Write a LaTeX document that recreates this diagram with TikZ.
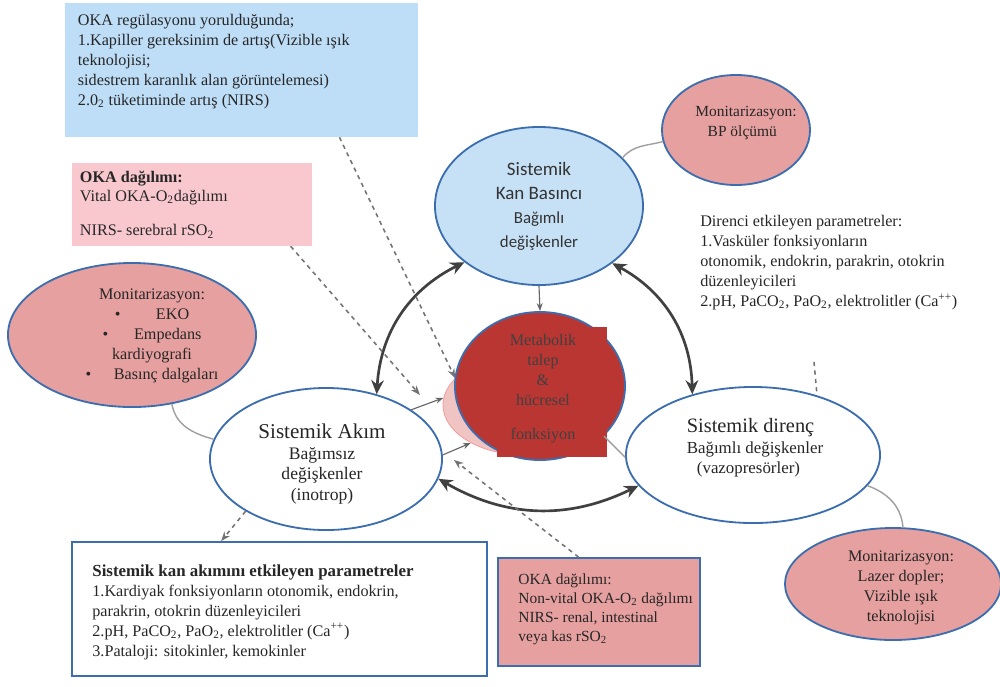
\documentclass[tikz,border=0pt]{standalone}
\usepackage{fontspec}
\setmainfont{Liberation Serif}
\newfontfamily\calib{Carlito}
\usepackage{xcolor}
\usetikzlibrary{arrows.meta,positioning,shapes,calc}

\definecolor{edgeblue}{RGB}{60,110,175}
\definecolor{paleblue}{RGB}{190,221,246}
\definecolor{skyblue}{RGB}{198,225,246}
\definecolor{palepink}{RGB}{248,200,206}
\definecolor{salmon}{RGB}{231,160,160}
\definecolor{bloodred}{RGB}{186,54,50}
\definecolor{halopink}{RGB}{241,196,196}

\begin{document}
\begin{tikzpicture}[x=0.025cm, y=-0.025cm,
  ell/.style={ellipse, draw=edgeblue, line width=1.3pt, inner sep=0pt},
  monitor/.style={ell, fill=salmon},
  openell/.style={ell, fill=white},
  box/.style={rectangle, inner sep=0pt},
  txt/.style={font=\fontsize{11.5}{14.2}\selectfont, text=black!85, inner sep=0pt, align=left},
  ctxt/.style={txt, align=center},
  link/.style={draw=gray!75, line width=1pt},
  twoway/.style={{Stealth[length=10pt,width=9pt]}-{Stealth[length=10pt,width=9pt]}, line width=1.9pt, draw=black!75},
  feed/.style={-{Stealth[scale=0.85]}, line width=0.8pt, draw=black!60},
  hint/.style={-{Stealth[scale=0.85]}, dashed, line width=1.1pt, draw=black!55}
]
\path[use as bounding box, fill=white] (0,0) rectangle (1000,686);

% boxes
\node[box, fill=paleblue, minimum width=8.825cm, minimum height=3.35cm] (reg) at (241.5,70) {};
\node[txt, anchor=north west] (regtxt) at ([shift={(13,11)}]reg.north west) {OKA regülasyonu yorulduğunda;\\
1.Kapiller gereksinim de artış(Vizible ışık\\
teknolojisi;\\
sidestrem karanlık alan görüntelemesi)\\
2.0\textsubscript{2} tüketiminde artış (NIRS)};

\node[box, fill=palepink, minimum width=6cm, minimum height=2.075cm] (oka1) at (192,204.5) {};
\node[txt, anchor=north west, font=\fontsize{11.5}{13.5}\selectfont] (oka1txt) at ([shift={(8,8)}]oka1.north west) {\textbf{OKA dağılımı:}\\
Vital OKA-O\textsubscript{2}dağılımı\\[11pt]
NIRS- serebral rSO\textsubscript{2}};

\node[box, draw=edgeblue, line width=1.2pt, fill=white, minimum width=10.375cm, minimum height=3.35cm] (flow) at (279.5,609) {};
\node[txt, anchor=north west] (flowtxt) at ([shift={(21,23)}]flow.north west) {{\fontsize{12}{14.2}\selectfont\textbf{Sistemik kan akımını etkileyen parametreler}}\\
1.Kardiyak fonksiyonların otonomik, endokrin,\\
parakrin, otokrin düzenleyicileri\\
2.pH, PaCO\textsubscript{2}, PaO\textsubscript{2}, elektrolitler (Ca\textsuperscript{++})\\
3.Pataloji: sitokinler, kemokinler};

\node[box, draw=edgeblue, line width=1.2pt, fill=salmon, minimum width=5.05cm, minimum height=2.7cm] (oka2) at (599,612) {};
\node[txt, anchor=north west, font=\fontsize{11}{13.5}\selectfont] (oka2txt) at ([shift={(21,16)}]oka2.north west) {OKA dağılımı:\\
Non-vital OKA-O\textsubscript{2} dağılımı\\
NIRS- renal, intestinal\\
veya kas rSO\textsubscript{2}};

\node[txt, anchor=north west] (dirtxt) at (700,215) {Direnci etkileyen parametreler:\\
1.Vasküler fonksiyonların\\
otonomik, endokrin, parakrin, otokrin\\
düzenleyicileri\\
2.pH, PaCO\textsubscript{2}, PaO\textsubscript{2}, elektrolitler (Ca\textsuperscript{++})};

% ellipses
\node[monitor, minimum width=6.2cm, minimum height=3.6cm] (eko) at (132,335) {};
\node[ctxt] at ([shift={(20,1)}]eko.center) {Monitarizasyon:\\
\textbullet\hspace{2.2em}EKO\\
\textbullet\hspace{1.6em}Empedans\\
kardiyografi\\
\textbullet\hspace{1.4em}Basınç dalgaları};

\node[monitor, minimum width=3.7cm, minimum height=2.75cm] (bp) at (736,130) {};
\node[txt, font=\fontsize{11}{14}\selectfont] at ([shift={(10,-7)}]bp.center) {Monitarizasyon:\\
\hspace{0.8em}BP ölçümü};

\node[monitor, minimum width=5.4cm, minimum height=2.8cm] (lazer) at (893,584) {};
\node[ctxt] at ([shift={(8,4)}]lazer.center) {Monitarizasyon:\\
Lazer dopler;\\
Vizible ışık\\
teknolojisi};

\node[ell, fill=skyblue, minimum width=5.2cm, minimum height=3.95cm] (kan) at (539,206) {};
\node[ctxt, font=\calib\fontsize{13.5}{17}\selectfont, text=black!80] at (kan.center) {Sistemik\\
Kan Basıncı\\
{\fontsize{12}{17}\selectfont Bağımlı}\\
{\fontsize{12}{17}\selectfont değişkenler}};

\node[ell, draw=halopink!80!red, line width=0.6pt, fill=halopink, minimum width=4.1cm, minimum height=2.5cm] (halo) at (525,405) {};
\node[ell, fill=bloodred, minimum width=4.25cm, minimum height=3.7cm] (meta) at (540,386) {};
\node[box, fill=bloodred, minimum width=2.75cm, minimum height=3.25cm] (metabg) at (552,392) {};
\node[ctxt, text=black!75] at ([shift={(3,3)}]meta.center) {Metabolik\\
talep\\
\&\\
hücresel\\[10pt]
fonksiyon};

\node[openell, minimum width=5.8cm, minimum height=3.55cm] (akim) at (326,459) {};
\node[ctxt, font=\fontsize{12.5}{14.8}\selectfont] at ([shift={(-4,5)}]akim.center) {{\fontsize{15}{18}\selectfont Sistemik Akım}\\
Bağımsız\\
değişkenler\\
(inotrop)};

\node[openell, minimum width=6.35cm, minimum height=3.4cm] (dir) at (753,455) {};
\node[txt, font=\fontsize{12}{14.5}\selectfont] at ([shift={(2,-7)}]dir.center) {{\fontsize{14.5}{17}\selectfont Sistemik direnç}\\
Bağımlı değişkenler\\
\hspace{0.6em}(vazopresörler)};

\coordinate (tip1) at (420,395);
\coordinate (tip2) at (454,460);
\coordinate (d0) at (814,362);

% links
\draw[link] (bp.189) to[out=195,in=50] (kan.30);
\draw[link] (dir.345) to[out=-20,in=95] (lazer.80);
\draw[link] (eko.300) to[out=-80,in=165] (akim.170);
\draw[link] (meta.322) -- (dir.181);

% main loop
\draw[twoway] (akim.52) to[bend left=30] (kan.217);
\draw[twoway] (kan.322) to[bend left=30] (dir.135);
\draw[twoway] (akim.350) to[bend right=28] (dir.195);
\draw[feed] (kan.south) -- (meta.north);
\draw[feed] (akim.30) -- (halo.175);
\draw[feed] (akim.2) -- (halo.215);

% dashed hints
\draw[hint] ($(reg.south west)!0.777!(reg.south east)$) -- (halo.159);
\draw[hint] ($(oka1.south west)!0.91!(oka1.south east)$) -- (tip1);
\draw[hint] ($(oka2.north west)!0.40!(oka2.north east)$) -- (tip2);
\draw[hint] (akim.213) -- ($(flow.north west)!0.36!(flow.north east)$);
\draw[dashed, line width=1.1pt, draw=black!55] (d0) -- (dir.43);

\end{tikzpicture}
\end{document}
